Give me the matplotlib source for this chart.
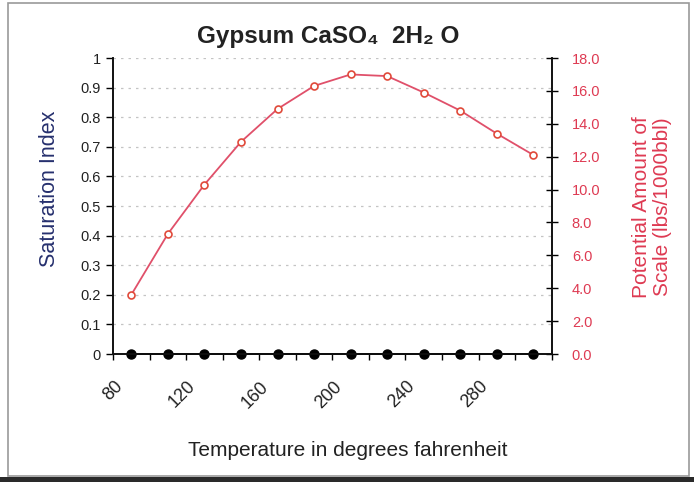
import numpy as np
import matplotlib
matplotlib.use("Agg")
from matplotlib import pyplot as plt
from matplotlib.patches import Rectangle

plt.rcParams['font.family'] = ['Liberation Sans', 'DejaVu Sans']

# temperature categories (deg F) and the two series
temperatures = [80, 100, 120, 140, 160, 180, 200, 220, 240, 260, 280, 300]
saturation_index = [0, 0, 0, 0, 0, 0, 0, 0, 0, 0, 0, 0]
scale_amount = [3.6, 7.3, 10.3, 12.9, 14.9, 16.3, 17.0, 16.9, 15.9, 14.8, 13.4, 12.1]
left_ticks = [0, 0.1, 0.2, 0.3, 0.4, 0.5, 0.6, 0.7, 0.8, 0.9, 1]
right_ticks = [0, 2, 4, 6, 8, 10, 12, 14, 16, 18]

W, H, DPI = 694, 482, 100
fig = plt.figure(figsize=(W / DPI, H / DPI), dpi=DPI)
ax = fig.add_axes([113 / W, 1 - 354 / H, 438.7 / W, 296 / H])
ax2 = ax.twinx()

navy = '#26306e'
red = '#de3a52'

x = np.arange(len(temperatures))

# horizontal gridlines
for v in left_ticks[1:]:
    ax.axhline(v, color='#c4c4c4', lw=0.9, ls=(0, (2, 4)), zorder=0)

ax.plot(x, saturation_index, color='black', lw=1.3, marker='o', ms=6.5,
        mfc='black', mec='black', clip_on=False, zorder=5)
ax2.plot(x, scale_amount, color='#e0506a', lw=1.3, marker='o', ms=5,
         mfc='white', mec='#e04a3a', mew=1.2, clip_on=False, zorder=5)

ax.set_xlim(-0.5, len(temperatures) - 0.5)
ax.set_ylim(0, 1)
ax2.set_ylim(0, 18)

# category boundaries as ticks, every other one labelled (labels drawn below)
bounds = np.arange(len(temperatures) + 1) - 0.5
ax.set_xticks(bounds)
ax.set_xticklabels([])
for k in range(0, len(temperatures), 2):
    ax.annotate(str(temperatures[k]), xy=(bounds[k], 0), xycoords=('data', 'axes fraction'),
                xytext=(7, -30), textcoords='offset pixels', rotation=45,
                ha='right', va='center', rotation_mode='anchor', fontsize=13,
                color='#222222', annotation_clip=False)

ax.set_yticks(left_ticks)
ax.set_yticklabels(['0', '0.1', '0.2', '0.3', '0.4', '0.5', '0.6', '0.7', '0.8', '0.9', '1'],
                   fontsize=10.5, color='#222222')
ax2.set_yticks(right_ticks)
ax2.set_yticklabels([f'{v:.1f}' for v in right_ticks], fontsize=10.5, color=red)

ax.tick_params(axis='x', direction='out', length=4, width=1, pad=2)
ax.tick_params(axis='y', direction='out', length=5, width=1, pad=4)
ax2.tick_params(axis='y', direction='inout', length=9, width=1, pad=10)

for a in (ax, ax2):
    a.spines['top'].set_visible(False)
    for s in ('left', 'right', 'bottom'):
        a.spines[s].set_linewidth(1.2)
        a.spines[s].set_color('#111111')

# axis titles
fig.text(50 / W, 1 - 189 / H, 'Saturation Index', rotation=90, ha='center', va='center',
         fontsize=15.5, color=navy)
fig.text(652 / W, 1 - 207 / H, 'Potential Amount of\nScale (lbs/1000bbl)', rotation=90,
         ha='center', va='center', fontsize=15, color=red, linespacing=1.15)

fig.text(328 / W, 1 - 37 / H, 'Gypsum CaSO\u2084  2H\u2082 O', ha='center', va='center',
         fontsize=17.5, fontweight='bold', color='#222222')
fig.text(348 / W, 1 - 450 / H, 'Temperature in degrees fahrenheit', ha='center', va='center',
         fontsize=15, color='#222222')

# chart border and bottom edge
fig.patches.append(Rectangle((8 / W, 6 / H), 681 / W, 473 / H, transform=fig.transFigure,
                             fill=False, ec='#9a9a9a', lw=1.2))
fig.patches.append(Rectangle((0, 0), 1, 5 / H, transform=fig.transFigure,
                             fc='#2a2a2a', ec='none'))

fig.savefig('out.png', dpi=DPI)
